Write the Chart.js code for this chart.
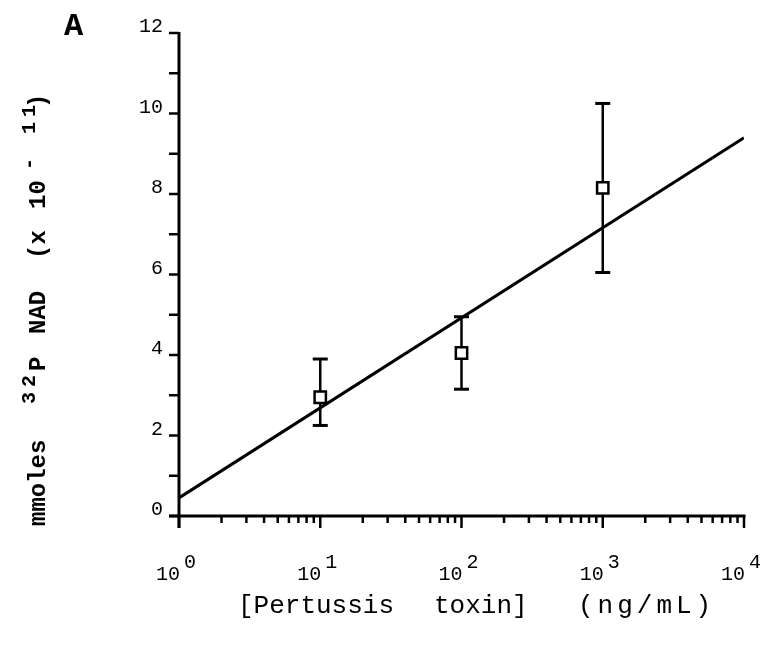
<!DOCTYPE html>
<html><head><meta charset="utf-8">
<script src="https://cdn.jsdelivr.net/npm/chart.js@4.4.0/dist/chart.umd.min.js"></script>
<style>html,body{margin:0;padding:0;background:#fff;}</style>
</head><body>
<canvas id="c" width="767" height="646"></canvas>
<script>
// ---- data ----
const toxinDoses = [10, 100, 1000];          // ng/mL
const nadMeans   = [2.95, 4.05, 8.15];       // nmoles 32P NAD (x 10^-11)
const errLow     = [2.25, 3.15, 6.05];
const errHigh    = [3.9, 4.95, 10.25];
const fitDoses   = [1, 10000];
const fitValues  = [0.45, 9.4];
const yTickValues      = [0, 2, 4, 6, 8, 10, 12];
const yMinorTickValues = [1, 3, 5, 7, 9, 11];
const xDecadeExponents = [0, 1, 2, 3, 4];
const xMinorMultipliers = [2, 3, 4, 5, 6, 7, 8, 9];
const panelLabel = 'A';
const xTitleWords = ['[Pertussis', 'toxin]', '(ng/mL)'];
const yTitleParts = [
  {text: 'mmoles', sup: false},
  {text: '32', sup: true},
  {text: 'P', sup: false},
  {text: 'NAD', sup: false},
  {text: '(x', sup: false},
  {text: '10', sup: false},
  {text: '-', sup: true},
  {text: '11', sup: true},
  {text: ')', sup: false}
];

const MONO = '"Liberation Mono", "DejaVu Sans Mono", monospace';

const paperPlugin = {
  id: 'paper',
  beforeDatasetsDraw(chart) {
    const {ctx, scales: {x, y}} = chart;
    const xa = x.getPixelForValue(fitDoses[0]);
    const xb = x.getPixelForValue(fitDoses[1]);
    const y0 = y.getPixelForValue(0);
    const yTop = y.getPixelForValue(12);
    ctx.save();
    ctx.strokeStyle = '#000';
    ctx.lineCap = 'butt';
    // axes
    ctx.lineWidth = 3;
    ctx.beginPath(); ctx.moveTo(xa, yTop - 1); ctx.lineTo(xa, y0 + 12); ctx.stroke();
    ctx.beginPath(); ctx.moveTo(xa - 10, y0); ctx.lineTo(xb + 1.5, y0); ctx.stroke();
    // y ticks
    ctx.lineWidth = 2.5;
    yTickValues.concat(yMinorTickValues).forEach(v => {
      const py = y.getPixelForValue(v);
      ctx.beginPath(); ctx.moveTo(xa - 10, py); ctx.lineTo(xa, py); ctx.stroke();
    });
    // x ticks
    xDecadeExponents.forEach(e => {
      const px = x.getPixelForValue(Math.pow(10, e));
      ctx.beginPath(); ctx.moveTo(px, y0); ctx.lineTo(px, y0 + 12); ctx.stroke();
      if (e < xDecadeExponents[xDecadeExponents.length - 1]) {
        xMinorMultipliers.forEach(m => {
          const pm = x.getPixelForValue(m * Math.pow(10, e));
          ctx.beginPath(); ctx.moveTo(pm, y0); ctx.lineTo(pm, y0 + 7); ctx.stroke();
        });
      }
    });
    // error bars
    toxinDoses.forEach((d, i) => {
      const px = x.getPixelForValue(d);
      const pl = y.getPixelForValue(errLow[i]);
      const ph = y.getPixelForValue(errHigh[i]);
      ctx.lineWidth = 2.5;
      ctx.beginPath(); ctx.moveTo(px, pl); ctx.lineTo(px, ph); ctx.stroke();
      ctx.lineWidth = 3;
      ctx.beginPath(); ctx.moveTo(px - 7.5, pl); ctx.lineTo(px + 7.5, pl); ctx.stroke();
      ctx.beginPath(); ctx.moveTo(px - 7.5, ph); ctx.lineTo(px + 7.5, ph); ctx.stroke();
    });
    ctx.restore();
  },
  afterDraw(chart) {
    const {ctx, scales: {x, y}} = chart;
    const xa = x.getPixelForValue(fitDoses[0]);
    const y0 = y.getPixelForValue(0);
    ctx.save();
    ctx.fillStyle = '#000';
    // y tick labels
    ctx.font = '20px ' + MONO;
    ctx.textAlign = 'right';
    ctx.textBaseline = 'alphabetic';
    yTickValues.forEach(v => {
      ctx.fillText(String(v), xa - 16, y.getPixelForValue(v) - 1);
    });
    // x tick labels 10^n
    xDecadeExponents.forEach(e => {
      const px = x.getPixelForValue(Math.pow(10, e));
      ctx.font = '20px ' + MONO;
      const wb = ctx.measureText('10').width;
      const we = ctx.measureText(String(e)).width;
      const total = wb + 4 + we;
      const left = px - total / 2 - 3;
      ctx.textAlign = 'left';
      ctx.fillText('10', left, y0 + 64);
      ctx.fillText(String(e), left + wb + 4, y0 + 52);
    });
    // x title
    ctx.font = '26px ' + MONO;
    ctx.textAlign = 'left';
    const xPos = [238, 434, 578];
    const xSpacing = ['0px', '0px', '4px'];
    xTitleWords.forEach((w, i) => {
      ctx.letterSpacing = xSpacing[i];
      ctx.fillText(w, xPos[i], 613);
    });
    ctx.letterSpacing = '0px';
    // panel label
    ctx.font = 'bold 32px ' + MONO;
    ctx.fillText(panelLabel, 64, 35);
    // y title (rotated)
    const starts = [526, 404, 371, 334, 259, 209, 170, 134, 108];
    yTitleParts.forEach((p, i) => {
      ctx.save();
      ctx.translate(p.sup ? 35 : 45, starts[i]);
      ctx.rotate(-Math.PI / 2);
      ctx.font = (p.sup ? 'bold 20px ' : 'bold 24px ') + MONO;
      ctx.letterSpacing = p.sup ? '5px' : '0px';
      ctx.textAlign = 'left';
      ctx.fillText(p.text, 0, 0);
      ctx.restore();
    });
    ctx.restore();
  }
};

new Chart(document.getElementById('c'), {
  data: {
    datasets: [
      {
        type: 'scatter',
        label: 'measured',
        data: toxinDoses.map((d, i) => ({x: d, y: nadMeans[i]})),
        pointStyle: 'rect',
        pointRadius: 8,
        pointBorderWidth: 2.5,
        pointBorderColor: '#000',
        pointBackgroundColor: '#fff',
        order: 1
      },
      {
        type: 'line',
        label: 'fit',
        data: fitDoses.map((d, i) => ({x: d, y: fitValues[i]})),
        borderColor: '#000',
        borderWidth: 3,
        pointRadius: 0,
        fill: false,
        order: 2
      }
    ]
  },
  options: {
    responsive: false,
    animation: false,
    devicePixelRatio: 1,
    layout: {padding: {left: 179, right: 23, top: 33, bottom: 130}},
    plugins: {legend: {display: false}, tooltip: {enabled: false}},
    scales: {
      x: {type: 'logarithmic', min: 1, max: 10000, display: false},
      y: {type: 'linear', min: 0, max: 12, display: false}
    }
  },
  plugins: [paperPlugin]
});
</script>
</body></html>
